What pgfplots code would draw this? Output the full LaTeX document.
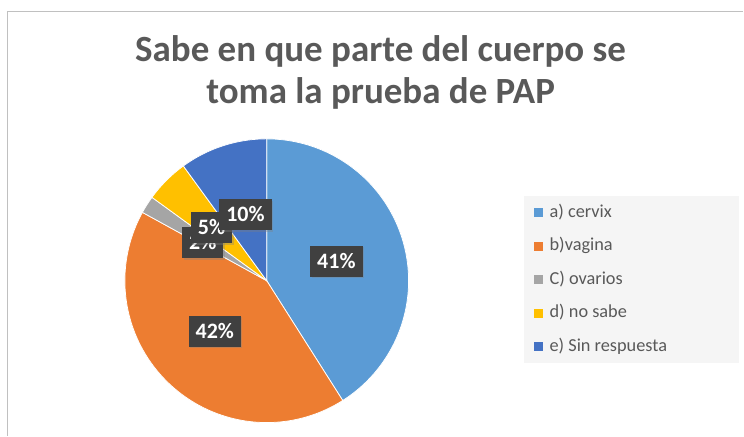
\documentclass[border=0pt]{standalone}
\usepackage{pgfplots}
\pgfplotsset{compat=1.18}
\usepackage{pgfplotstable}
\usepackage{fontspec}
\setmainfont{Carlito}
\usetikzlibrary{shadows}
\definecolor{cA}{HTML}{5B9BD5}
\definecolor{cB}{HTML}{ED7D31}
\definecolor{cC}{HTML}{A5A5A5}
\definecolor{cD}{HTML}{FFC000}
\definecolor{cE}{HTML}{4472C4}
\definecolor{txt}{HTML}{595959}
\definecolor{lab}{HTML}{404040}
\definecolor{frame}{HTML}{C0C0C0}
\definecolor{legbg}{HTML}{F5F5F5}

\pgfplotstableread[col sep=comma]{
cat,value
a) cervix,41
b)vagina,42
C) ovarios,2
d) no sabe,5
e) Sin respuesta,10
}\piedata

\pgfplotstablegetelem{0}{value}\of\piedata \pgfmathsetmacro\vA{\pgfplotsretval}
\pgfplotstablegetelem{1}{value}\of\piedata \pgfmathsetmacro\vB{\pgfplotsretval}
\pgfplotstablegetelem{2}{value}\of\piedata \pgfmathsetmacro\vC{\pgfplotsretval}
\pgfplotstablegetelem{3}{value}\of\piedata \pgfmathsetmacro\vD{\pgfplotsretval}
\pgfplotstablegetelem{4}{value}\of\piedata \pgfmathsetmacro\vE{\pgfplotsretval}
\pgfmathsetmacro\eA{3.6*\vA}
\pgfmathsetmacro\eB{\eA+3.6*\vB}
\pgfmathsetmacro\eC{\eB+3.6*\vC}
\pgfmathsetmacro\eD{\eC+3.6*\vD}
\pgfmathsetmacro\eE{\eD+3.6*\vE}

\tikzset{datalab/.style={fill=lab, text=white, font=\fontsize{22}{22}\bfseries\selectfont,
  inner xsep=7pt, inner ysep=8.5pt, text height=14pt, text depth=0pt,
  drop shadow={opacity=0.35, shadow xshift=1.5pt, shadow yshift=-1.5pt}}}

\begin{document}
\begin{tikzpicture}[x=1pt,y=1pt]
\path (0,0) rectangle (744,436);
\draw[frame, line width=1.5pt] (7.3,0) -- (7.3,424.3) -- (744,424.3);
\node[anchor=base, text=txt, font=\fontsize{37}{42}\bfseries\selectfont] at (381,374) {Sabe en que parte del cuerpo se};
\node[anchor=base, text=txt, font=\fontsize{37}{42}\bfseries\selectfont] at (381,332) {toma la prueba de PAP};
\fill[legbg] (525,73) rectangle (740,240);
\begin{axis}[
  at={(125pt,13pt)}, anchor=south west,
  scale only axis, width=284pt, height=284pt,
  xmin=-1, xmax=1, ymin=-1, ymax=1,
  hide axis, clip=false,
  legend cell align=left,
  legend style={at={(axis description cs:1.4401,0.7694)}, anchor=north west,
    draw=none, fill=none, inner sep=0pt, row sep=16.5pt, column sep=7pt,
    font=\fontsize{18.3}{21}\selectfont, text=txt,
    nodes={inner sep=0pt, text height=13pt, text depth=4pt}},
  legend image code/.code={\fill[#1,draw=none] (0pt,-4.5pt) rectangle (9pt,4.5pt);},
]
\addplot[fill=cA, draw=white, line width=0.75pt, domain=0:\eA, samples=90] ({sin(x)},{cos(x)}) -- (axis cs:0,0) -- cycle;
\addlegendentry{a) cervix}
\addplot[fill=cB, draw=white, line width=0.75pt, domain=\eA:\eB, samples=90] ({sin(x)},{cos(x)}) -- (axis cs:0,0) -- cycle;
\addlegendentry{b)vagina}
\addplot[fill=cC, draw=white, line width=0.75pt, domain=\eB:\eC, samples=10] ({sin(x)},{cos(x)}) -- (axis cs:0,0) -- cycle;
\addlegendentry{C) ovarios}
\addplot[fill=cD, draw=white, line width=0.75pt, domain=\eC:\eD, samples=20] ({sin(x)},{cos(x)}) -- (axis cs:0,0) -- cycle;
\addlegendentry{d) no sabe}
\addplot[fill=cE, draw=white, line width=0.75pt, domain=\eD:\eE, samples=40] ({sin(x)},{cos(x)}) -- (axis cs:0,0) -- cycle;
\addlegendentry{e) Sin respuesta}
\node[datalab] at (axis cs:0.491,0.136) {41\%};
\node[datalab] at (axis cs:-0.366,-0.357) {42\%};
\node[datalab] at (axis cs:-0.451,0.268) {2\%};
\node[datalab] at (axis cs:-0.389,0.373) {5\%};
\node[datalab] at (axis cs:-0.150,0.465) {10\%};
\end{axis}
\end{tikzpicture}
\end{document}
